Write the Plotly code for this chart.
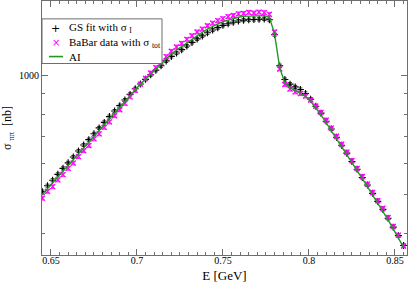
import plotly.graph_objects as go

# Energy grid (GeV)
E = [0.645, 0.648, 0.651, 0.654, 0.657, 0.660, 0.663, 0.666, 0.669, 0.672,
     0.675, 0.678, 0.681, 0.684, 0.687, 0.690, 0.693, 0.696, 0.699, 0.702,
     0.705, 0.708, 0.711, 0.714, 0.717, 0.720, 0.723, 0.726, 0.729, 0.732,
     0.735, 0.738, 0.741, 0.744, 0.747, 0.750, 0.753, 0.756, 0.759, 0.762,
     0.765, 0.768, 0.771, 0.774, 0.777, 0.780, 0.783, 0.786, 0.789, 0.792,
     0.795, 0.798, 0.801, 0.804, 0.807, 0.810, 0.813, 0.816, 0.819, 0.822,
     0.825, 0.828, 0.831, 0.834, 0.837, 0.840, 0.843, 0.846, 0.849, 0.852,
     0.855]

# GS fit with sigma_I (nb)
gs_fit = [509, 527, 544, 563, 583, 602, 623, 645, 668, 689,
          713, 738, 762, 788, 814, 840, 868, 897, 927, 953,
          979, 1006, 1032, 1060, 1090, 1119, 1141, 1164, 1189, 1214,
          1239, 1261, 1284, 1305, 1323, 1341, 1354, 1365, 1375, 1382,
          1385, 1388, 1389, 1392, 1385, 1270, 1060, 978, 952, 937,
          923, 902, 872, 837, 804, 767, 733, 699, 667, 637,
          607, 580, 553, 529, 504, 481, 459, 436, 414, 394,
          372]

# BaBar data with sigma_tot (nb)
babar = [490, 510, 524, 545, 562, 583, 601, 624, 646, 666,
         692, 713, 740, 764, 792, 820, 851, 884, 918, 952,
         985, 1016, 1048, 1082, 1118, 1153, 1182, 1207, 1236, 1262,
         1290, 1312, 1338, 1358, 1378, 1394, 1411, 1420, 1434, 1438,
         1446, 1441, 1448, 1444, 1430, 1290, 1040, 950, 925, 910,
         901, 888, 868, 838, 808, 772, 737, 703, 671, 641,
         610, 583, 556, 532, 507, 483, 462, 438, 416, 395,
         371]

# AI curve (nb)
ai = [501, 519, 536, 555, 574, 593, 614, 635, 658, 679,
      703, 728, 752, 778, 805, 832, 861, 891, 923, 951,
      979, 1009, 1038, 1069, 1102, 1135, 1161, 1186, 1213, 1239,
      1265, 1288, 1312, 1334, 1352, 1371, 1384, 1396, 1406, 1413,
      1416, 1419, 1419, 1419, 1406, 1276, 1047, 959, 933, 918,
      906, 887, 861, 828, 796, 760, 726, 692, 661, 631,
      601, 574, 548, 524, 499, 476, 455, 432, 410, 390,
      368]

x_ticks = [0.65, 0.70, 0.75, 0.80, 0.85]
x_ticklabels = ["0.65", "0.7", "0.75", "0.8", "0.85"]
y_major = [1000]
y_minor = [400, 500, 600, 700, 800, 900]
legend_labels = ["GS fit with σ <sub>I</sub>", "BaBar data with σ <sub>tot</sub>", "AI"]

serif = "Liberation Serif"
frame = "#6e6e6e"
magenta = "#ff00ff"
green = "#1f9a1f"

fig = go.Figure()
fig.add_trace(go.Scatter(
    x=E, y=gs_fit, mode="markers", name=legend_labels[0],
    marker=dict(symbol="cross-thin", size=5, line=dict(color="black", width=1.1)),
    error_y=dict(type="percent", value=0.9, color="black", thickness=0.8, width=2),
))
fig.add_trace(go.Scatter(
    x=E, y=babar, mode="markers", name=legend_labels[1],
    marker=dict(symbol="x-thin", size=5, line=dict(color=magenta, width=1.2)),
    error_y=dict(type="percent", value=1.1, color=magenta, thickness=0.8, width=2.5),
))
fig.add_trace(go.Scatter(
    x=E, y=ai, mode="lines", name=legend_labels[2],
    line=dict(color=green, width=1.4),
))

# Custom legend box (paper coordinates; plot area 365 x 256 px)
def px(xp):
    return (xp - 42) / 365

def py(yp):
    return (256 - yp) / 256

fig.add_shape(type="rect", xref="paper", yref="paper",
              x0=px(42), x1=px(162), y0=py(63), y1=py(18),
              line=dict(color=frame, width=1), fillcolor="white", layer="above")
fig.add_shape(type="line", xref="paper", yref="paper",
              x0=px(49), x1=px(63), y0=py(56), y1=py(56),
              line=dict(color=green, width=1.6), layer="above")
fig.add_annotation(xref="paper", yref="paper", x=px(55.5), y=py(27.5), text="+",
                   showarrow=False, font=dict(family="DejaVu Sans", size=11, color="black"),
                   xanchor="center", yanchor="middle")
fig.add_annotation(xref="paper", yref="paper", x=px(55.5), y=py(42), text="×",
                   showarrow=False, font=dict(family="DejaVu Sans", size=10, color=magenta),
                   xanchor="center", yanchor="middle")
for label, yrow in zip(legend_labels, [27, 42, 56]):
    fig.add_annotation(xref="paper", yref="paper", x=px(67), y=py(yrow), text=label,
                       showarrow=False, font=dict(family=serif, size=11, color="black"),
                       xanchor="left", yanchor="middle")

fig.update_layout(
    width=409, height=283,
    margin=dict(l=42, r=2, t=0, b=27),
    paper_bgcolor="white", plot_bgcolor="white",
    font=dict(family=serif, size=11, color="black"),
    showlegend=False,
)
fig.update_xaxes(
    range=[0.6448, 0.857], tickmode="array", tickvals=x_ticks, ticktext=x_ticklabels,
    ticks="inside", ticklen=6, tickcolor=frame, showline=True, linecolor=frame,
    linewidth=1, mirror="allticks", showgrid=False, zeroline=False,
    tickfont=dict(family=serif, size=10), ticklabelstandoff=-4,
    title=dict(text="E [GeV]", font=dict(family=serif, size=13), standoff=8),
    minor=dict(ticks="inside", ticklen=3, dtick=0.005, tick0=0.65, tickcolor=frame, showgrid=False),
)
fig.update_yaxes(
    type="log", range=[2.5465, 3.189], tickmode="array", tickvals=y_major,
    ticktext=["1000"], ticks="inside", ticklen=6, tickcolor=frame,
    showline=True, linecolor=frame, linewidth=1, mirror="allticks",
    showgrid=False, zeroline=False, tickfont=dict(family=serif, size=10),
    title=dict(text="σ <sub>ππ</sub>  [nb]", font=dict(family=serif, size=12), standoff=8),
    minor=dict(ticks="inside", ticklen=3, tickmode="array", tickvals=y_minor, tickcolor=frame, showgrid=False),
)

fig.write_html("out.html", config={"displayModeBar": False},
               post_script="document.body.style.margin='0px';")
